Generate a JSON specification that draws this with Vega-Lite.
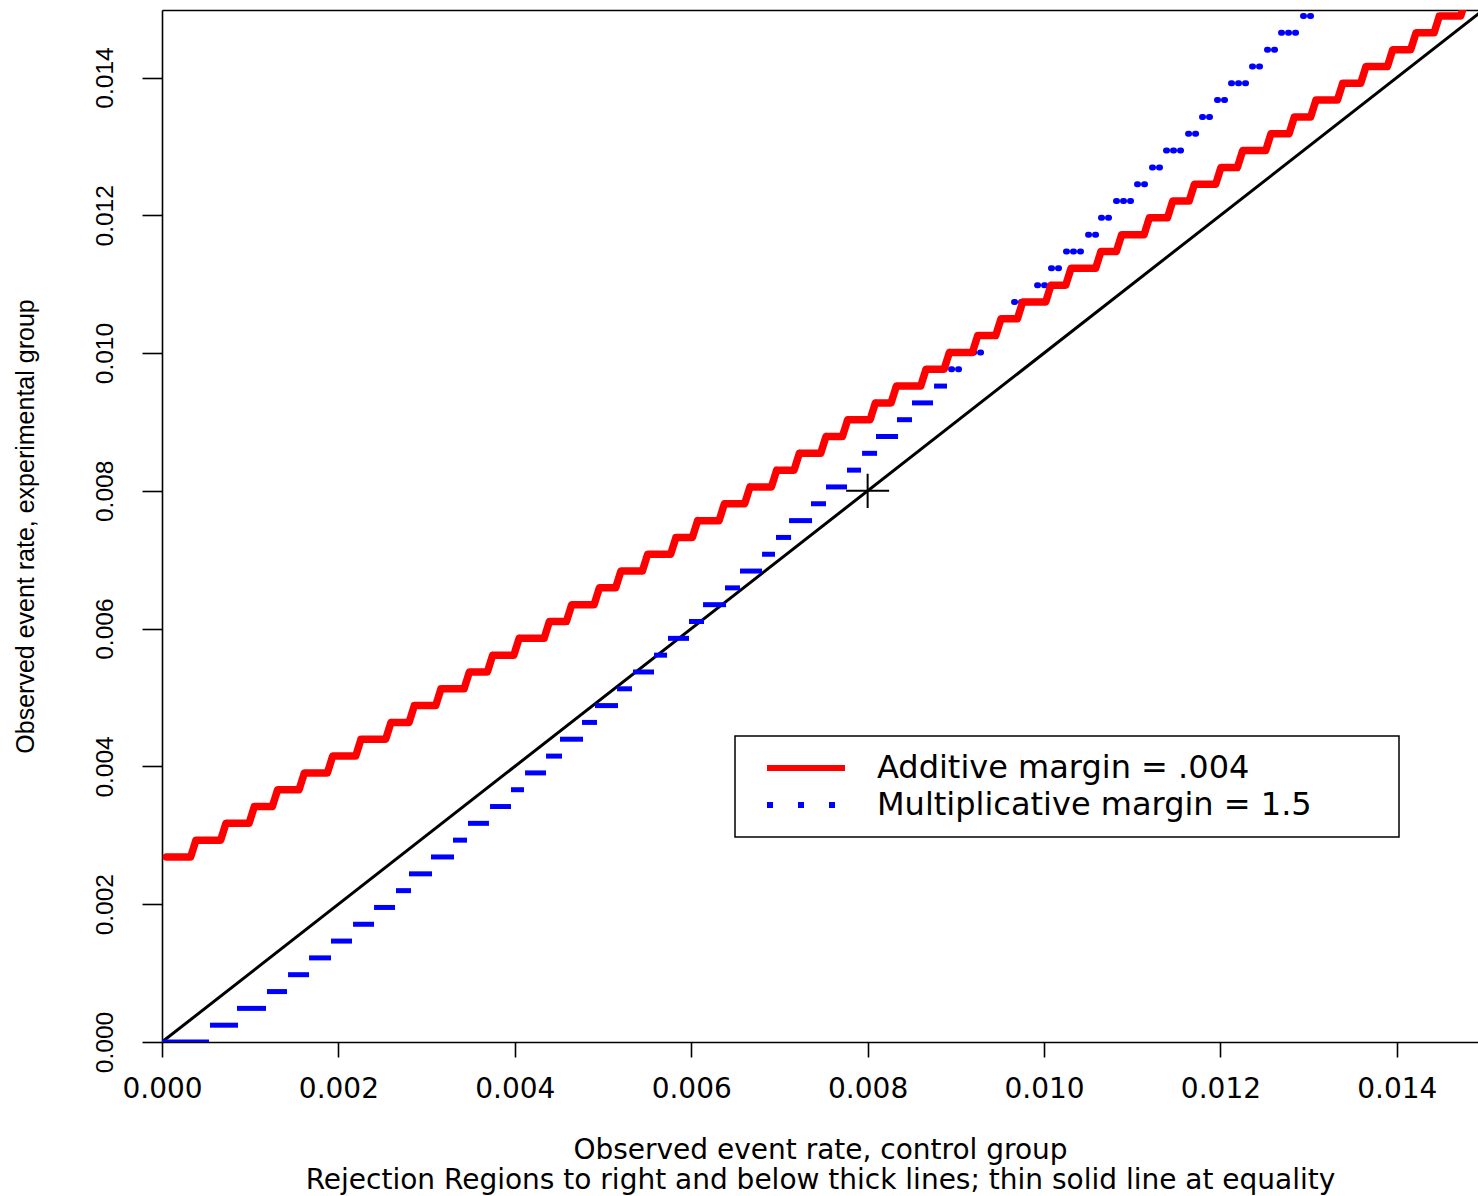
{
  "$schema": "https://vega.github.io/schema/vega-lite/v6.json",
  "autosize": {"type": "none"},
  "padding": {"left": 162, "top": 10, "right": 0, "bottom": 154},
  "width": 1316,
  "height": 1032,
  "background": "white",
  "config": {
    "view": {"stroke": null},
    "legend": {"strokeWidth": 1.5}
  },
  "datasets": {
    "diag": [{"x": 0, "y": 0}, {"x": 0.0152, "y": 0.0152}],
    "cross": [{"x": 0.008, "y": 0.008}],
    "red": [
      {"s":"A","x":0.00005,"y":0.002686},{"s":"A","x":0.000325,"y":0.002686},
      {"s":"A","x":0.000385,"y":0.00293},{"s":"A","x":0.000665,"y":0.00293},
      {"s":"A","x":0.000725,"y":0.003174},{"s":"A","x":0.000987,"y":0.003174},
      {"s":"A","x":0.001047,"y":0.003418},{"s":"A","x":0.001251,"y":0.003418},
      {"s":"A","x":0.001311,"y":0.003662},{"s":"A","x":0.001554,"y":0.003662},
      {"s":"A","x":0.001614,"y":0.003906},{"s":"A","x":0.001875,"y":0.003906},
      {"s":"A","x":0.001935,"y":0.00415},{"s":"A","x":0.002196,"y":0.00415},
      {"s":"A","x":0.002256,"y":0.004395},{"s":"A","x":0.002536,"y":0.004395},
      {"s":"A","x":0.002596,"y":0.004639},{"s":"A","x":0.002801,"y":0.004639},
      {"s":"A","x":0.002861,"y":0.004883},{"s":"A","x":0.003103,"y":0.004883},
      {"s":"A","x":0.003163,"y":0.005127},{"s":"A","x":0.003425,"y":0.005127},
      {"s":"A","x":0.003485,"y":0.005371},{"s":"A","x":0.003689,"y":0.005371},
      {"s":"A","x":0.003749,"y":0.005615},{"s":"A","x":0.003989,"y":0.005615},
      {"s":"A","x":0.004049,"y":0.005859},{"s":"A","x":0.004332,"y":0.005859},
      {"s":"A","x":0.004392,"y":0.006104},{"s":"A","x":0.004585,"y":0.006104},
      {"s":"A","x":0.004645,"y":0.006348},{"s":"A","x":0.004899,"y":0.006348},
      {"s":"A","x":0.004959,"y":0.006592},{"s":"A","x":0.005143,"y":0.006592},
      {"s":"A","x":0.005203,"y":0.006836},{"s":"A","x":0.005446,"y":0.006836},
      {"s":"A","x":0.005506,"y":0.00708},{"s":"A","x":0.005767,"y":0.00708},
      {"s":"A","x":0.005827,"y":0.007324},{"s":"A","x":0.006013,"y":0.007324},
      {"s":"A","x":0.006073,"y":0.007568},{"s":"A","x":0.006316,"y":0.007568},
      {"s":"A","x":0.006376,"y":0.007813},{"s":"A","x":0.006606,"y":0.007813},
      {"s":"A","x":0.006666,"y":0.008057},{"s":"A","x":0.006909,"y":0.008057},
      {"s":"A","x":0.006969,"y":0.008301},{"s":"A","x":0.007166,"y":0.008301},
      {"s":"A","x":0.007226,"y":0.008545},{"s":"A","x":0.007468,"y":0.008545},
      {"s":"A","x":0.007528,"y":0.008789},{"s":"A","x":0.007714,"y":0.008789},
      {"s":"A","x":0.007774,"y":0.009033},{"s":"A","x":0.008028,"y":0.009033},
      {"s":"A","x":0.008088,"y":0.009277},{"s":"A","x":0.008266,"y":0.009277},
      {"s":"A","x":0.008326,"y":0.009521},{"s":"A","x":0.008602,"y":0.009521},
      {"s":"A","x":0.008662,"y":0.009766},{"s":"A","x":0.008867,"y":0.009766},
      {"s":"A","x":0.008927,"y":0.01001},{"s":"A","x":0.009188,"y":0.01001},
      {"s":"A","x":0.009248,"y":0.010254},{"s":"A","x":0.009452,"y":0.010254},
      {"s":"A","x":0.009512,"y":0.010498},{"s":"A","x":0.009698,"y":0.010498},
      {"s":"A","x":0.009758,"y":0.010742},{"s":"A","x":0.010019,"y":0.010742},
      {"s":"A","x":0.010079,"y":0.010986},{"s":"A","x":0.010246,"y":0.010986},
      {"s":"A","x":0.010306,"y":0.01123},{"s":"A","x":0.010585,"y":0.01123},
      {"s":"A","x":0.010645,"y":0.011475},{"s":"A","x":0.01082,"y":0.011475},
      {"s":"A","x":0.01088,"y":0.011719},{"s":"A","x":0.011134,"y":0.011719},
      {"s":"A","x":0.011194,"y":0.011963},{"s":"A","x":0.011399,"y":0.011963},
      {"s":"A","x":0.011459,"y":0.012207},{"s":"A","x":0.011645,"y":0.012207},
      {"s":"A","x":0.011705,"y":0.012451},{"s":"A","x":0.011946,"y":0.012451},
      {"s":"A","x":0.012006,"y":0.012695},{"s":"A","x":0.012192,"y":0.012695},
      {"s":"A","x":0.012252,"y":0.012939},{"s":"A","x":0.012513,"y":0.012939},
      {"s":"A","x":0.012573,"y":0.013184},{"s":"A","x":0.012778,"y":0.013184},
      {"s":"A","x":0.012838,"y":0.013428},{"s":"A","x":0.013023,"y":0.013428},
      {"s":"A","x":0.013083,"y":0.013672},{"s":"A","x":0.013326,"y":0.013672},
      {"s":"A","x":0.013386,"y":0.013916},{"s":"A","x":0.01359,"y":0.013916},
      {"s":"A","x":0.01365,"y":0.01416},{"s":"A","x":0.013893,"y":0.01416},
      {"s":"A","x":0.013953,"y":0.014404},{"s":"A","x":0.014157,"y":0.014404},
      {"s":"A","x":0.014217,"y":0.014648},{"s":"A","x":0.014422,"y":0.014648},
      {"s":"A","x":0.014482,"y":0.014893},{"s":"A","x":0.014724,"y":0.014893},
      {"s":"A","x":0.014784,"y":0.015137},{"s":"A","x":0.0152,"y":0.015137}
    ],
    "blue": [
      {"s":"M","j":0,"x":0,"x2":0.000533,"y":0},
      {"s":"M","j":1,"x":0.000544,"x2":0.000862,"y":0.000244},
      {"s":"M","j":2,"x":0.00085,"x2":0.001179,"y":0.000488},
      {"s":"M","j":3,"x":0.00119,"x2":0.001417,"y":0.000732},
      {"s":"M","j":4,"x":0.001429,"x2":0.001667,"y":0.000977},
      {"s":"M","j":5,"x":0.001667,"x2":0.001916,"y":0.001221},
      {"s":"M","j":6,"x":0.001916,"x2":0.002154,"y":0.001465},
      {"s":"M","j":7,"x":0.002166,"x2":0.002404,"y":0.001709},
      {"s":"M","j":8,"x":0.002404,"x2":0.002642,"y":0.001953},
      {"s":"M","j":9,"x":0.002653,"x2":0.002823,"y":0.002197},
      {"s":"M","j":10,"x":0.0028,"x2":0.003061,"y":0.002441},
      {"s":"M","j":11,"x":0.00305,"x2":0.003311,"y":0.002686},
      {"s":"M","j":12,"x":0.003299,"x2":0.003458,"y":0.00293},
      {"s":"M","j":13,"x":0.003469,"x2":0.003707,"y":0.003174},
      {"s":"M","j":14,"x":0.003719,"x2":0.003957,"y":0.003418},
      {"s":"M","j":15,"x":0.003957,"x2":0.004104,"y":0.003662},
      {"s":"M","j":16,"x":0.004116,"x2":0.004354,"y":0.003906},
      {"s":"M","j":17,"x":0.004354,"x2":0.004535,"y":0.00415},
      {"s":"M","j":18,"x":0.004512,"x2":0.004773,"y":0.004395},
      {"s":"M","j":19,"x":0.004762,"x2":0.004932,"y":0.004639},
      {"s":"M","j":20,"x":0.004909,"x2":0.00517,"y":0.004883},
      {"s":"M","j":21,"x":0.005159,"x2":0.005329,"y":0.005127},
      {"s":"M","j":22,"x":0.00534,"x2":0.005578,"y":0.005371},
      {"s":"M","j":23,"x":0.005578,"x2":0.005726,"y":0.005615},
      {"s":"M","j":24,"x":0.005737,"x2":0.005975,"y":0.005859},
      {"s":"M","j":25,"x":0.005975,"x2":0.006145,"y":0.006104},
      {"s":"M","j":26,"x":0.006134,"x2":0.006395,"y":0.006348},
      {"s":"M","j":27,"x":0.006383,"x2":0.006553,"y":0.006592},
      {"s":"M","j":28,"x":0.006553,"x2":0.006803,"y":0.006836},
      {"s":"M","j":29,"x":0.006803,"x2":0.00695,"y":0.00708},
      {"s":"M","j":30,"x":0.006961,"x2":0.007132,"y":0.007324},
      {"s":"M","j":31,"x":0.007109,"x2":0.00737,"y":0.007568},
      {"s":"M","j":32,"x":0.007358,"x2":0.007528,"y":0.007813},
      {"s":"M","j":33,"x":0.007528,"x2":0.007766,"y":0.008057},
      {"s":"M","j":34,"x":0.007766,"x2":0.007925,"y":0.008301},
      {"s":"M","j":35,"x":0.007937,"x2":0.008107,"y":0.008545},
      {"s":"M","j":36,"x":0.008095,"x2":0.008345,"y":0.008789},
      {"s":"M","j":37,"x":0.008333,"x2":0.008503,"y":0.009033},
      {"s":"M","j":38,"x":0.008503,"x2":0.008741,"y":0.009277},
      {"s":"M","j":39,"x":0.008753,"x2":0.0089,"y":0.009521},
      {"s":"M","j":40,"x":0.008912,"x2":0.009082,"y":0.009766},
      {"s":"M","j":41,"x":0.009082,"x2":0.00932,"y":0.01001},
      {"s":"M","j":42,"x":0.00932,"x2":0.009478,"y":0.010254},
      {"s":"M","j":43,"x":0.009478,"x2":0.009626,"y":0.010498},
      {"s":"M","j":44,"x":0.009626,"x2":0.009887,"y":0.010742},
      {"s":"M","j":45,"x":0.009887,"x2":0.010034,"y":0.010986},
      {"s":"M","j":46,"x":0.010045,"x2":0.010215,"y":0.01123},
      {"s":"M","j":47,"x":0.010215,"x2":0.010454,"y":0.011475},
      {"s":"M","j":48,"x":0.010465,"x2":0.010612,"y":0.011719},
      {"s":"M","j":49,"x":0.010612,"x2":0.010782,"y":0.011963},
      {"s":"M","j":50,"x":0.010782,"x2":0.011032,"y":0.012207},
      {"s":"M","j":51,"x":0.01102,"x2":0.01119,"y":0.012451},
      {"s":"M","j":52,"x":0.01119,"x2":0.011349,"y":0.012695},
      {"s":"M","j":53,"x":0.011349,"x2":0.011587,"y":0.012939},
      {"s":"M","j":54,"x":0.011599,"x2":0.011757,"y":0.013184},
      {"s":"M","j":55,"x":0.011757,"x2":0.011916,"y":0.013428},
      {"s":"M","j":56,"x":0.011927,"x2":0.012075,"y":0.013672},
      {"s":"M","j":57,"x":0.012086,"x2":0.012324,"y":0.013916},
      {"s":"M","j":58,"x":0.012324,"x2":0.012494,"y":0.01416},
      {"s":"M","j":59,"x":0.012494,"x2":0.012653,"y":0.014404},
      {"s":"M","j":60,"x":0.012653,"x2":0.012902,"y":0.014648},
      {"s":"M","j":61,"x":0.012902,"x2":0.01305,"y":0.014893}
    ]
  },
  "layer": [
    {
      "data": {"name": "diag"},
      "mark": {"type": "line", "color": "black", "strokeWidth": 3, "clip": true},
      "encoding": {
        "x": {
          "field": "x", "type": "quantitative",
          "scale": {"domain": [0, 0.01492], "nice": false, "zero": false},
          "axis": {
            "orient": "bottom",
            "values": [0, 0.002, 0.004, 0.006, 0.008, 0.01, 0.012, 0.014],
            "format": ".3f", "grid": false,
            "tickSize": 15, "tickWidth": 1.6, "tickColor": "black",
            "domainColor": "black", "domainWidth": 1.6,
            "labelFont": "DejaVu Sans", "labelFontSize": 28, "labelColor": "black",
            "labelPadding": 18, "labelFlush": false, "labelOverlap": false,
            "title": ["Observed event rate, control group", "Rejection Regions to right and below thick lines; thin solid line at equality"],
            "titleFont": "DejaVu Sans", "titleFontSize": 28, "titleFontWeight": "normal",
            "titleColor": "black", "titleLineHeight": 30, "titleBaseline": "top", "titleY": 94
          }
        },
        "y": {
          "field": "y", "type": "quantitative",
          "scale": {"domain": [0, 0.01498], "nice": false, "zero": false},
          "axis": {
            "orient": "left",
            "values": [0, 0.002, 0.004, 0.006, 0.008, 0.01, 0.012, 0.014],
            "format": ".3f", "grid": false,
            "tickSize": 20, "tickWidth": 1.6, "tickColor": "black",
            "domainColor": "black", "domainWidth": 1.6,
            "labelFont": "Liberation Sans", "labelFontSize": 24.5, "labelColor": "black",
            "labelAngle": -90, "labelAlign": "center", "labelBaseline": "bottom",
            "labelPadding": 25, "labelFlush": false, "labelOverlap": false,
            "title": "Observed event rate, experimental group",
            "titleFont": "Liberation Sans", "titleFontSize": 25, "titleFontWeight": "normal",
            "titleColor": "black", "titleAngle": -90, "titleBaseline": "bottom", "titleX": -124
          }
        }
      }
    },
    {
      "data": {"name": "blue"},
      "transform": [{"filter": "datum.j < 40"}],
      "mark": {"type": "rule", "strokeWidth": 5, "strokeCap": "butt", "clip": true},
      "encoding": {
        "x": {"field": "x", "type": "quantitative", "axis": null},
        "x2": {"field": "x2"},
        "y": {"field": "y", "type": "quantitative", "axis": null},
        "color": {"field": "s", "type": "nominal"}
      }
    },
    {
      "data": {"name": "blue"},
      "transform": [{"filter": "datum.j >= 40"}],
      "mark": {"type": "rule", "strokeWidth": 6, "strokeCap": "round", "strokeDash": [1, 6], "strokeDashOffset": -3, "clip": true},
      "encoding": {
        "x": {"field": "x", "type": "quantitative", "axis": null},
        "x2": {"field": "x2"},
        "y": {"field": "y", "type": "quantitative", "axis": null},
        "color": {"field": "s", "type": "nominal"}
      }
    },
    {
      "data": {"name": "red"},
      "mark": {"type": "line", "strokeWidth": 7.5, "strokeCap": "round", "strokeJoin": "round", "clip": true},
      "encoding": {
        "x": {
          "field": "x", "type": "quantitative",
          "axis": {"orient": "top", "ticks": false, "labels": false, "title": null, "grid": false, "domainColor": "black", "domainWidth": 1.6}
        },
        "y": {"field": "y", "type": "quantitative", "axis": null},
        "color": {
          "field": "s", "type": "nominal",
          "scale": {"domain": ["A", "M"], "range": ["#ff0000", "#0000ff"]},
          "legend": {
            "orient": "none", "legendX": 573, "legendY": 726, "title": null,
            "symbolType": "stroke", "symbolSize": 6084, "symbolStrokeWidth": 6,
            "labelFont": "DejaVu Sans", "labelFontSize": 32, "labelColor": "black",
            "labelLimit": 1000, "labelOffset": 29, "symbolOffset": 13, "clipHeight": 32,
            "padding": 16, "rowPadding": 5, "strokeColor": "black", "fillColor": "white",
            "labelExpr": "(datum.label == 'A' ? 'Additive margin = .004' : 'Multiplicative margin = 1.5') + '\u00a0\u00a0\u00a0\u00a0\u00a0\u00a0\u00a0\u200b'"
          }
        },
        "strokeDash": {
          "field": "s", "type": "nominal",
          "scale": {"domain": ["A", "M"], "range": [[1, 0], [6, 25]]},
          "legend": {
            "orient": "none", "legendX": 573, "legendY": 726, "title": null,
            "symbolType": "stroke", "symbolSize": 6084, "symbolStrokeWidth": 6,
            "labelFont": "DejaVu Sans", "labelFontSize": 32, "labelColor": "black",
            "labelLimit": 1000, "labelOffset": 29, "symbolOffset": 13, "clipHeight": 32,
            "padding": 16, "rowPadding": 5, "strokeColor": "black", "fillColor": "white",
            "labelExpr": "(datum.label == 'A' ? 'Additive margin = .004' : 'Multiplicative margin = 1.5') + '\u00a0\u00a0\u00a0\u00a0\u00a0\u00a0\u00a0\u200b'"
          }
        }
      }
    },
    {
      "data": {"name": "cross"},
      "mark": {"type": "point", "shape": "M-1,0L1,0M0,-0.8L0,0.8", "size": 1849, "color": "black", "strokeWidth": 2, "filled": false, "opacity": 1},
      "encoding": {
        "x": {"field": "x", "type": "quantitative", "axis": null},
        "y": {"field": "y", "type": "quantitative", "axis": null}
      }
    }
  ],
  "resolve": {"axis": {"x": "independent", "y": "independent"}}
}
